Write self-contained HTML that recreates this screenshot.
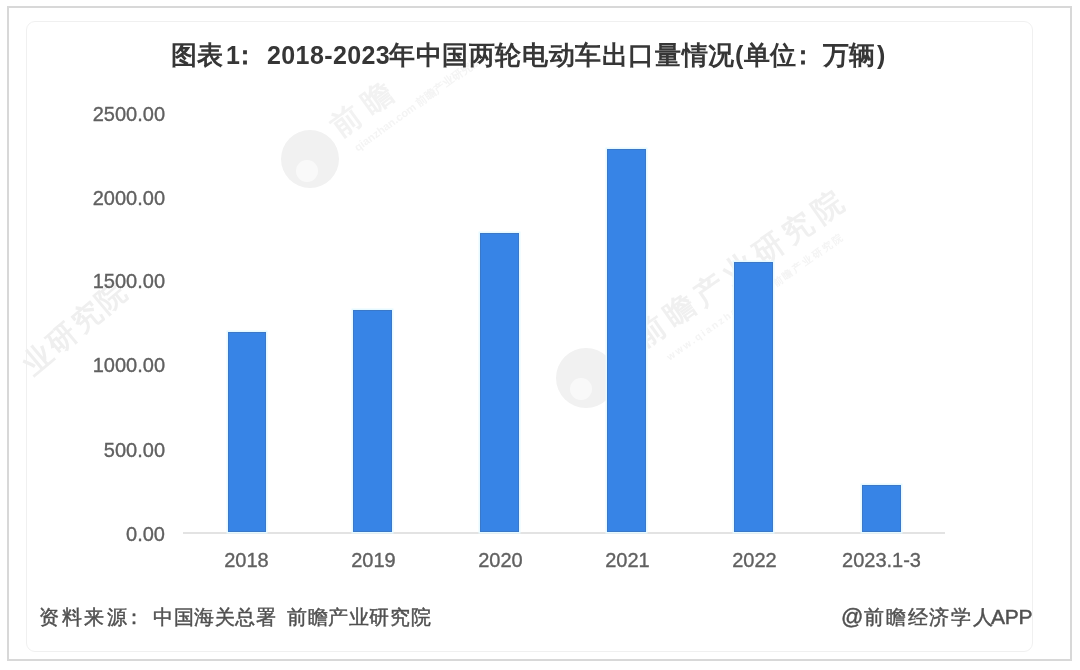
<!DOCTYPE html>
<html><head><meta charset="utf-8">
<style>
html,body{margin:0;padding:0;width:1080px;height:670px;overflow:hidden;background:#fff;}
body{position:relative;font-family:"Liberation Sans",sans-serif;}
.abs{position:absolute;}
#outer{left:7px;top:6px;width:1065px;height:655px;border:2px solid #d8d8d8;box-sizing:border-box;}
#inner{left:26px;top:21px;width:1007px;height:631px;border:1px solid #f0f0f0;border-radius:9px;box-sizing:border-box;}
#title{left:0;top:0;width:1080px;height:80px;font-weight:bold;color:#363636;white-space:nowrap;}
#title span{position:absolute;top:40px;line-height:30px;}
#title .c{font-size:26px;}
#title .l{font-size:25px;}
.yl{position:absolute;right:915px;font-size:20px;color:#606060;-webkit-text-stroke:0.35px #606060;text-align:right;white-space:nowrap;line-height:20px;}
.xl{position:absolute;width:127px;text-align:center;font-size:20px;color:#606060;-webkit-text-stroke:0.35px #606060;white-space:nowrap;line-height:20px;top:550px;}
.bar{position:absolute;background:#3784e6;width:39px;box-shadow:inset 0 0 0 1px #3a78c8, 0 0 0 1.5px #e6f9ff;}
#axis{left:183px;top:532px;width:762px;height:2px;background:#e3e3e3;}
.foot{position:absolute;font-size:20px;color:#505050;-webkit-text-stroke:0.45px #505050;white-space:nowrap;line-height:22px;top:606px;}
.wm{position:absolute;color:#efefef;font-weight:bold;white-space:nowrap;transform-origin:0 100%;}
.wlogo{position:absolute;border-radius:50%;background:#f1f1f1;}
</style></head>
<body><div id="wrap" style="position:absolute;left:0;top:0;width:1080px;height:670px;filter:blur(0.45px);">
<div id="outer" class="abs"></div>
<div id="inner" class="abs"></div>

<!-- watermarks -->
<div class="wlogo" style="left:281px;top:130px;width:58px;height:58px;"></div>
<div class="abs" style="left:296px;top:160px;width:22px;height:22px;border-radius:50%;background:#f9f9f9;"></div>
<div class="wm" style="left:346px;top:106px;font-size:30px;letter-spacing:9px;color:#f2f2f2;transform:rotate(-36deg);">前瞻</div>
<div class="wm" style="left:360px;top:140px;font-size:11px;color:#f4f4f4;transform:rotate(-36deg);">qianzhan.com 前瞻产业研究院</div>

<div class="wm" style="left:40px;top:344px;font-size:29px;letter-spacing:3px;transform:rotate(-40deg);">业研究院</div>

<div class="wlogo" style="left:556px;top:348px;width:60px;height:60px;"></div>
<div class="abs" style="left:570px;top:378px;width:22px;height:22px;border-radius:50%;background:#f9f9f9;"></div>
<div class="wm" style="left:650px;top:316px;font-size:30px;letter-spacing:6px;color:#f0f0f0;transform:rotate(-35deg);">前瞻产业研究院</div>
<div class="wm" style="left:672px;top:350px;font-size:10px;color:#f4f4f4;letter-spacing:2px;transform:rotate(-35deg);">www.qianzhan.com 前瞻产业研究院</div>

<div id="title" class="abs">
<span class="c" style="left:171px;letter-spacing:0.2px">图表</span><span class="l" style="left:226px">1</span><span class="c" style="left:232px">：</span><span class="l" style="left:267px;letter-spacing:0.4px">2018-2023</span><span class="c" style="left:389px;letter-spacing:0.6px">年中国两轮电动车出口量情况</span><span class="l" style="left:735px">(</span><span class="c" style="left:744px;letter-spacing:0.4px">单位</span><span class="c" style="left:790px">：</span><span class="c" style="left:823px;letter-spacing:0.4px">万辆</span><span class="l" style="left:877px">)</span>
</div>

<div class="yl" style="top:104px">2500.00</div>
<div class="yl" style="top:188px">2000.00</div>
<div class="yl" style="top:271px">1500.00</div>
<div class="yl" style="top:355px">1000.00</div>
<div class="yl" style="top:440px">500.00</div>
<div class="yl" style="top:524px">0.00</div>

<div id="axis" class="abs"></div>
<div class="bar" style="left:228px;top:332px;height:200px;width:38px"></div>
<div class="bar" style="left:353px;top:310px;height:222px"></div>
<div class="bar" style="left:480px;top:233px;height:299px"></div>
<div class="bar" style="left:607px;top:149px;height:383px"></div>
<div class="bar" style="left:734px;top:262px;height:270px"></div>
<div class="bar" style="left:862px;top:485px;height:47px"></div>

<div class="xl" style="left:183px">2018</div>
<div class="xl" style="left:310px">2019</div>
<div class="xl" style="left:437px">2020</div>
<div class="xl" style="left:564px">2021</div>
<div class="xl" style="left:691px">2022</div>
<div class="xl" style="left:818px">2023.1-3</div>

<div class="foot" style="left:39px;letter-spacing:2.5px">资料来源</div><div class="foot" style="left:124px">：</div><div class="foot" style="left:153px;letter-spacing:0.6px">中国海关总署</div><div class="foot" style="left:287px;letter-spacing:0.6px">前瞻产业研究院</div>
<div class="foot" style="left:841px;font-size:22px">@</div><div class="foot" style="left:864px;letter-spacing:1.8px">前瞻经济学人</div><div class="foot" style="left:991px;font-size:21px;letter-spacing:-0.3px">APP</div>
</div></body></html>
